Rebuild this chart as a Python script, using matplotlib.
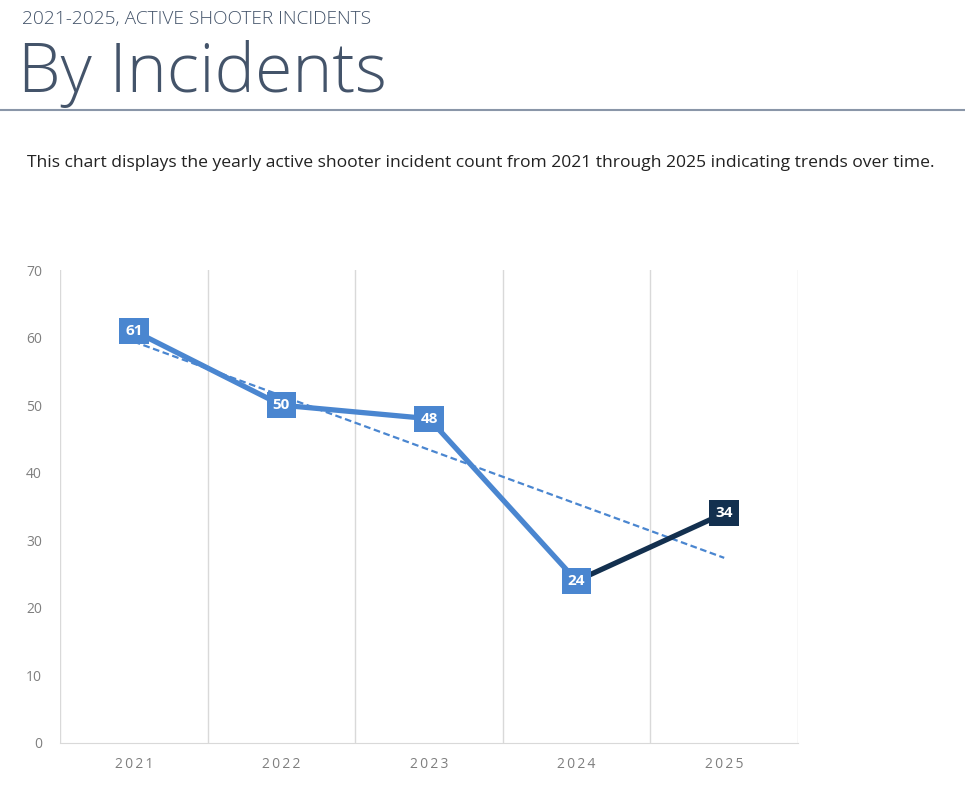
import numpy as np
import matplotlib.pyplot as plt
from matplotlib.lines import Line2D

years = ['2021', '2022', '2023', '2024', '2025']
incidents = [61, 50, 48, 24, 34]

blue = '#4A86D0'
navy = '#13304F'
slate = '#44546A'

plt.rcParams['font.family'] = ['Open Sans', 'DejaVu Sans']

fig = plt.figure(figsize=(9.65, 7.92), dpi=100)
fig.patch.set_facecolor('white')

# header
fig.text(22 / 965, 1 - 19 / 792, '2021-2025, ACTIVE SHOOTER INCIDENTS', fontsize=13.8,
         color=slate, fontweight='light', va='center', ha='left')
fig.text(18 / 965, 1 - 74 / 792, 'By Incidents', fontsize=49, color=slate,
         fontweight='light', va='center', ha='left')
fig.add_artist(Line2D([0, 1], [1 - 110 / 792, 1 - 110 / 792], color='#8A96A8', lw=1.5))
fig.text(27 / 965, 1 - 163 / 792,
         'This chart displays the yearly active shooter incident count from 2021 through 2025 indicating trends over time.',
         fontsize=12.6, color='#222222', va='center', ha='left')

ax = fig.add_axes([60 / 965, 1 - 743 / 792, (798 - 60) / 965, (743 - 270) / 792])
x = np.arange(len(years))

# trendline
p = np.polyfit(x, incidents, 1)
ax.plot(x, np.polyval(p, x), color=blue, lw=1.6, ls=(0, (3, 1.6)), zorder=2)

ax.plot(x[:4], incidents[:4], color=blue, lw=3.8, solid_capstyle='butt', zorder=3)
ax.plot(x[3:], incidents[3:], color=navy, lw=3.8, solid_capstyle='butt', zorder=3)

for i, v in enumerate(incidents):
    c = navy if i == 4 else blue
    ax.text(x[i], v, str(v), color='white', fontsize=11, fontweight='bold',
            ha='center', va='center', zorder=5,
            bbox=dict(boxstyle='square,pad=0.4', fc=c, ec='none'))

ax.set_xlim(-0.5, 4.5)
ax.set_ylim(0, 70)
ax.set_yticks(range(0, 71, 10))
ax.set_xticks(x)
ax.set_xticklabels(['\u2009'.join(y) for y in years])
for xv in np.arange(-0.5, 4.6, 1):
    ax.axvline(xv, color='#D9D9D9', lw=1, zorder=1)
for s in ['top', 'left', 'right']:
    ax.spines[s].set_visible(False)
ax.spines['bottom'].set_color('#D9D9D9')
ax.tick_params(length=0, colors='#7F7F7F', labelsize=10)
ax.tick_params(axis='y', pad=13)
ax.tick_params(axis='x', pad=10)

fig.savefig('out.png', dpi=100)
